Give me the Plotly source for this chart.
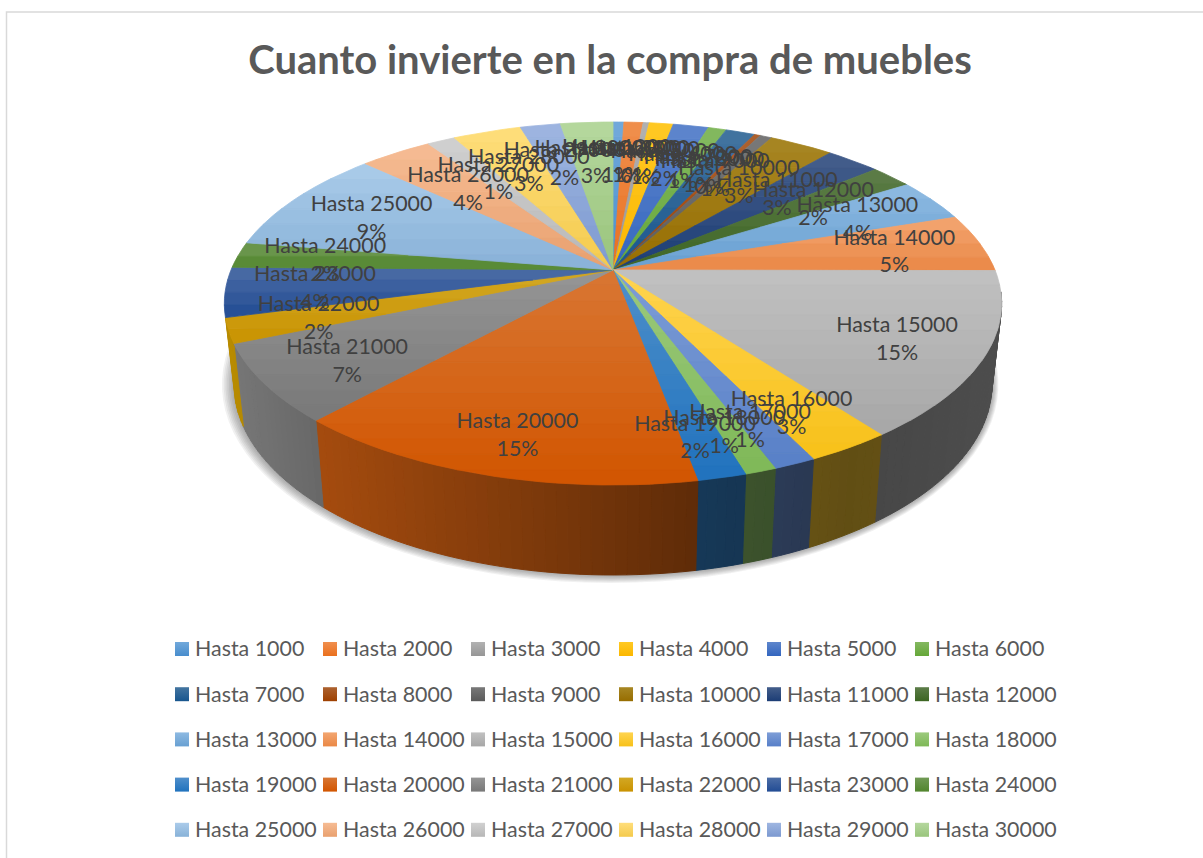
import math
import numpy as np
import plotly.graph_objects as go

categories = ["Hasta %d" % (1000 * i) for i in range(1, 31)]
shares = [0.54, 0.95, 0.30, 1.19, 1.76, 0.90, 1.46, 0.30, 0.60, 3.2, 2.7, 2.1, 3.8, 5.2, 14.7,
          3.0, 1.49, 1.1, 1.7, 14.6, 6.9, 2.2, 4.4, 2.3, 9.4, 3.6, 1.4, 3.4, 2.0, 2.6]
colors = ["#5B9BD5", "#ED7D31", "#A5A5A5", "#FFC000", "#4472C4", "#70AD47",
          "#255E91", "#9E480E", "#636363", "#997300", "#264478", "#43682B",
          "#7CAFDD", "#F1975A", "#B7B7B7", "#FFCD33", "#698ED0", "#8CC168",
          "#327DC2", "#D26012", "#848484", "#CC9A00", "#2F5597", "#5A8A39",
          "#9DC3E6", "#F4B183", "#C9C9C9", "#FFD966", "#8FAADC", "#A9D18E"]
title = "Cuanto invierte en la compra de muebles"

FONT = "Lato, Carlito, sans-serif"
CX, CY, A, B, P = 613.0, 270.0, 382.0, 175.3, 0.1846


def proj(theta, r=1.0):
    u, v = r * math.sin(theta), r * math.cos(theta)
    w = 1 + P * v
    return CX + A * u / w, CY - B * v / w


def label_pos(theta):
    u, v = math.sin(theta), math.cos(theta)
    sx = float(np.interp(v, [-1, -0.45, 0.16, 0.42, 0.75, 1], [352, 318, 285, 272, 224, 215]))
    sy = float(np.interp(v, [-1, -0.45, 0.16, 0.42, 0.75, 1], [172, 150, 124, 122, 108, 110]))
    return CX + sx * u, CY + 3 - sy * v


def lower(x, y):
    return CX + 0.975 * (x - CX), 1.05 * y + 65.75


def rgb(h):
    return [int(h[i:i + 2], 16) for i in (1, 3, 5)]


def css(c):
    return "rgb(%d,%d,%d)" % tuple(max(0, min(255, round(k))) for k in c)


def shade_pair(c):
    base = np.array(rgb(c), float)
    top = base + (255 - base) * 0.14
    bot = np.clip((base + (base - base.mean()) * 0.2) * 0.91, 0, 255)
    return top, bot


def clip(poly, ymin, ymax):
    def side(pts, keep, cross):
        out = []
        for i, p in enumerate(pts):
            q = pts[(i + 1) % len(pts)]
            if keep(p):
                out.append(p)
            if keep(p) != keep(q):
                t = (cross - p[1]) / (q[1] - p[1])
                out.append((p[0] + t * (q[0] - p[0]), cross))
        return out
    pts = side(poly, lambda p: p[1] >= ymin, ymin)
    if pts:
        pts = side(pts, lambda p: p[1] <= ymax, ymax)
    return pts


fig = go.Figure()


def add_poly(pts, color, line=1.0):
    xs = [p[0] for p in pts] + [pts[0][0]]
    ys = [p[1] for p in pts] + [pts[0][1]]
    fig.add_trace(go.Scatter(x=xs, y=ys, mode="lines", fill="toself", fillcolor=color,
                             line=dict(color=color, width=line), hoverinfo="skip",
                             showlegend=False))


total = sum(shares)
edges = np.cumsum([0] + shares) / total * 2 * math.pi

# soft shadow below the wall
ring = [lower(*proj(t)) for t in np.linspace(0, 2 * math.pi, 121)]
for k in range(7, 0, -1):
    pts = [(CX + (x - CX) * (1 + k * 0.0035) - k * 0.4, 384 + (y - 384) * (1 + k * 0.006)) for x, y in ring]
    add_poly(pts, "rgba(60,60,60,0.07)", line=0)

# side wall
W_START, W_END = math.radians(97), edges[22]
for i, c in enumerate(colors):
    a, b = max(edges[i], W_START), min(edges[i + 1], W_END)
    if b <= a:
        continue
    n = max(1, math.ceil((b - a) / math.radians(1.5)))
    base = rgb(c)
    for j in range(n):
        t0, t1 = a + (b - a) * j / n, a + (b - a) * (j + 1) / n
        p0, p1 = proj(t0), proj(t1)
        mx = (p0[0] + p1[0]) / 2
        f = float(np.interp(mx, [230, 320, 700, 850, 1000], [0.9, 0.78, 0.45, 0.38, 0.42]))
        add_poly([p0, p1, lower(*p1), lower(*p0)], css([k * f for k in base]))

# top surface with a vertical gradient per slice
for i, c in enumerate(colors):
    n = max(2, math.ceil((edges[i + 1] - edges[i]) / math.radians(2)))
    poly = [(CX, CY)] + [proj(t) for t in np.linspace(edges[i], edges[i + 1], n + 1)]
    y0, y1 = min(p[1] for p in poly), max(p[1] for p in poly)
    bands = max(2, math.ceil((y1 - y0) / 16))
    top, bot = shade_pair(c)
    for j in range(bands):
        a = y0 + (y1 - y0) * j / bands
        b = y0 + (y1 - y0) * (j + 1) / bands
        pts = clip(poly, a, b)
        if len(pts) < 3:
            continue
        t = (j + 0.5) / bands
        add_poly(pts, css(top + (bot - top) * t), line=0.8)

# data labels
lx, ly, lt = [], [], []
for i, name in enumerate(categories):
    x, y = label_pos((edges[i] + edges[i + 1]) / 2)
    lx.append(x)
    ly.append(y)
    lt.append("%s<br>%d%%" % (name, round(shares[i])))
fig.add_trace(go.Scatter(x=lx, y=ly, text=lt, mode="text", textposition="middle center",
                         textfont=dict(family=FONT, size=21.4, color="#404040"),
                         hoverinfo="skip", showlegend=False))

# legend
cols, rows = 6, 5
gx = [182 + 148 * (i % cols) for i in range(30)]
gy = [649 + 45.2 * (i // cols) for i in range(30)]
fig.add_trace(go.Scatter(x=gx, y=gy, mode="markers",
                         marker=dict(symbol="square", size=14,
                                     color=[css(shade_pair(c)[0]) for c in colors],
                                     gradient=dict(type="vertical", color=[css(shade_pair(c)[1]) for c in colors]),
                                     line=dict(width=0)),
                         hoverinfo="skip", showlegend=False))
fig.add_trace(go.Scatter(x=[v + 13 for v in gx], y=[v + 2 for v in gy], mode="text", text=categories,
                         textposition="middle right",
                         textfont=dict(family=FONT, size=21.4, color="#595959"),
                         hoverinfo="skip", showlegend=False))

fig.update_layout(
    width=1203, height=858, margin=dict(l=0, r=0, t=0, b=0),
    paper_bgcolor="white", plot_bgcolor="white", showlegend=False,
    xaxis=dict(range=[0, 1203], visible=False, fixedrange=True),
    yaxis=dict(range=[858, 0], visible=False, fixedrange=True),
    title=dict(text="<b>%s</b>" % title, x=610 / 1203, xanchor="center", y=1 - 60 / 858, yanchor="middle",
               font=dict(family=FONT, size=40, color="#595959")),
    shapes=[dict(type="rect", xref="x", yref="y", x0=6.5, y0=12, x1=1215, y1=875,
                 line=dict(color="#D9D9D9", width=1.5), layer="below")],
)
fig.write_html("out.html", config=dict(displayModeBar=False),
               post_script="document.body.style.margin='0';document.body.style.overflow='hidden';")
